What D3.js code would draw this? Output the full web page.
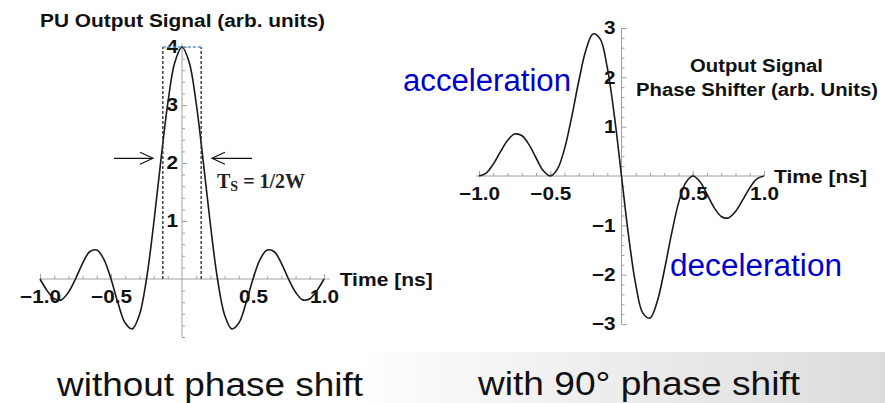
<!DOCTYPE html>
<html>
<head>
<meta charset="utf-8">
<script src="https://cdn.jsdelivr.net/npm/d3@7"></script>
<style>
  html, body { margin: 0; padding: 0; background: #fff; }
  svg { display: block; }
</style>
</head>
<body>
<svg id="chart" width="885" height="403"></svg>
<script>
// ---------------- data ----------------
const time = [-1.0,-0.95,-0.9,-0.85,-0.8,-0.75,-0.7,-0.65,-0.6,-0.55,-0.5,-0.45,-0.4,-0.35,-0.3,-0.25,-0.2,-0.15,-0.1,-0.05,0,
              0.05,0.1,0.15,0.2,0.25,0.3,0.35,0.4,0.45,0.5,0.55,0.6,0.65,0.7,0.75,0.8,0.85,0.9,0.95,1.0];
// PU output signal (without phase shift)
const puSignal = [0,-0.20,-0.34,-0.36,-0.23,0,0.27,0.47,0.50,0.34,0,-0.42,-0.76,-0.86,-0.62,0,0.94,2.02,3.03,3.74,4.00,
                  3.74,3.03,2.02,0.94,0,-0.62,-0.86,-0.76,-0.42,0,0.34,0.50,0.47,0.27,0,-0.23,-0.36,-0.34,-0.20,0];
// phase shifter output signal (90 deg phase shift)
const shiftedSignal = [0,0.06,0.24,0.49,0.72,0.85,0.82,0.64,0.37,0.11,0,0.14,0.55,1.19,1.92,2.55,2.88,2.78,2.20,1.22,0,
                       -1.22,-2.20,-2.78,-2.88,-2.55,-1.92,-1.19,-0.55,-0.14,0,-0.11,-0.37,-0.64,-0.82,-0.85,-0.72,-0.49,-0.24,-0.06,0];
const xMajorTicks = [-1.0,-0.5,0.5,1.0];
const xMinorTicks = [-1.0,-0.9,-0.8,-0.7,-0.6,-0.5,-0.4,-0.3,-0.2,-0.1,0.1,0.2,0.3,0.4,0.5,0.6,0.7,0.8,0.9,1.0];
const yMajorTicksLeft = [1,2,3,4];
const yMinorTicksLeft = [-1.0,-0.8,-0.6,-0.4,-0.2,0.2,0.4,0.6,0.8,1.2,1.4,1.6,1.8,2.2,2.4,2.6,2.8,3.2,3.4,3.6,3.8,4.0];
const yMajorTicksRight = [-3,-2,-1,1,2,3];
const yMinorTicksRight = [-3.0,-2.8,-2.6,-2.4,-2.2,-1.8,-1.6,-1.4,-1.2,-0.8,-0.6,-0.4,-0.2,
                          0.2,0.4,0.6,0.8,1.2,1.4,1.6,1.8,2.2,2.4,2.6,2.8,3.0];
const pulseHalfWidth = 0.135;   // T_S window half width (ns)
const halfMaxLevel = 2.08;      // arrow level
const texts = {
  leftTitle: "PU Output Signal (arb. units)",
  rightTitle1: "Output Signal",
  rightTitle2: "Phase Shifter (arb. Units)",
  xLabel: "Time [ns]",
  accel: "acceleration",
  decel: "deceleration",
  capLeft: "without phase shift",
  capRight: "with 90\u00B0 phase shift"
};

// ---------------- drawing ----------------
const svg = d3.select("#chart");
const defs = svg.append("defs");
const grad = defs.append("linearGradient").attr("id", "bg").attr("x1", "0").attr("x2", "1").attr("y1", "0").attr("y2", "0");
grad.append("stop").attr("offset", "0").attr("stop-color", "#ffffff");
grad.append("stop").attr("offset", "0.2").attr("stop-color", "#f6f6f6");
grad.append("stop").attr("offset", "1").attr("stop-color", "#dcdcdc");
svg.append("rect").attr("x", 360).attr("y", 352).attr("width", 525).attr("height", 51).attr("fill", "url(#bg)");

const FONT = '"Liberation Sans", Arial, Helvetica, sans-serif';
const STRETCH = 1.12;

function stretchText(sel, k) {
  sel.each(function() {
    const w = this.getComputedTextLength();
    d3.select(this).attr("textLength", w * k).attr("lengthAdjust", "spacingAndGlyphs");
  });
}

function drawPanel(opts) {
  const { x, y, xExt, yExt, signal, yMajor, yMinor, yPad } = opts;
  const g = svg.append("g");
  g.append("line").attr("x1", x(xExt[0])).attr("x2", x(xExt[1])).attr("y1", y(0)).attr("y2", y(0))
    .attr("stroke", "#a0a0a0").attr("stroke-width", 1);
  g.append("line").attr("x1", x(0)).attr("x2", x(0)).attr("y1", y(yExt[0])).attr("y2", y(yExt[1]))
    .attr("stroke", "#a0a0a0").attr("stroke-width", 1);

  const xMin = d3.axisBottom(x).tickValues(xMinorTicks).tickSizeInner(-3).tickSizeOuter(0).tickFormat("");
  const gxm = g.append("g").attr("transform", `translate(0,${y(0)})`).call(xMin);
  const xMaj = d3.axisBottom(x).tickValues(xMajorTicks).tickSizeInner(-5).tickSizeOuter(0)
    .tickPadding(11).tickFormat(d3.format(".1f"));
  const gx = g.append("g").attr("transform", `translate(0,${y(0)})`).call(xMaj);
  const yMinA = d3.axisLeft(y).tickValues(yMinor).tickSizeInner(-3).tickSizeOuter(0).tickFormat("");
  const gym = g.append("g").attr("transform", `translate(${x(0)},0)`).call(yMinA);
  const yMajA = d3.axisLeft(y).tickValues(yMajor).tickSizeInner(-5).tickSizeOuter(0)
    .tickPadding(yPad).tickFormat(d3.format("d"));
  const gy = g.append("g").attr("transform", `translate(${x(0)},0)`).call(yMajA);

  [gxm, gx, gym, gy].forEach(a => {
    a.select(".domain").remove();
    a.selectAll(".tick line").attr("stroke", "#a0a0a0");
  });
  [gx, gy].forEach(a => {
    a.selectAll(".tick text").attr("fill", "#111").style("font-family", FONT)
      .style("font-size", "18.5px").style("font-weight", "bold");
    stretchText(a.selectAll(".tick text"), STRETCH);
  });

  const line = d3.line().x((d, i) => x(time[i])).y(d => y(d)).curve(d3.curveCatmullRom.alpha(0.5));
  g.append("path").datum(signal).attr("d", line).attr("fill", "none")
    .attr("stroke", "#1a1a1a").attr("stroke-width", 1.6);

  g.append("text").attr("x", x(xExt[1]) + 10).attr("y", y(0) + 7).text(texts.xLabel)
    .style("font-family", FONT).style("font-size", "18.5px").style("font-weight", "bold").attr("fill", "#111")
    .attr("textLength", 93).attr("lengthAdjust", "spacingAndGlyphs");
  return g;
}

// Left panel
const xL = d3.scaleLinear().domain([-1, 1]).range([40, 324]);
const yL = d3.scaleLinear().domain([0, 4]).range([279, 47]);
drawPanel({ x: xL, y: yL, xExt: [-1.0, 1.04], yExt: [-1.0, 4.06], signal: puSignal,
  yMajor: yMajorTicksLeft, yMinor: yMinorTicksLeft, yPad: 4 });

// Right panel
const xR = d3.scaleLinear().domain([-1, 1]).range([479, 764]);
const yR = d3.scaleLinear().domain([-3, 3]).range([324, 28]);
drawPanel({ x: xR, y: yR, xExt: [-1.02, 1.0], yExt: [-3, 3], signal: shiftedSignal,
  yMajor: yMajorTicksRight, yMinor: yMinorTicksRight, yPad: 6 });

// Ts window (dashed rectangle)
const win = svg.append("g");
[-pulseHalfWidth, pulseHalfWidth].forEach(t => {
  win.append("line").attr("x1", xL(t)).attr("x2", xL(t)).attr("y1", yL(0)).attr("y2", yL(4))
    .attr("stroke", "#333").attr("stroke-width", 1.4).attr("stroke-dasharray", "3,2");
});
win.append("line").attr("x1", xL(-pulseHalfWidth)).attr("x2", xL(pulseHalfWidth)).attr("y1", yL(4)).attr("y2", yL(4))
  .attr("stroke", "#5b8fd0").attr("stroke-width", 1.4).attr("stroke-dasharray", "3,2");

// arrows
function arrow(x1, x2, yy) {
  const dir = Math.sign(x2 - x1);
  const g = svg.append("g").attr("stroke", "#111").attr("stroke-width", 1.1).attr("fill", "none");
  g.append("line").attr("x1", x1).attr("x2", x2).attr("y1", yy).attr("y2", yy);
  g.append("path").attr("d", `M${x2 - dir * 13},${yy - 6}L${x2},${yy}L${x2 - dir * 13},${yy + 6}`);
}
arrow(xL(-0.479), xL(-0.204), yL(halfMaxLevel));
arrow(xL(0.493), xL(0.211), yL(halfMaxLevel));

// T_S = 1/2W
const ts = svg.append("text").attr("x", 217).attr("y", 188)
  .style("font-family", '"Liberation Serif", "Times New Roman", serif').style("font-weight", "bold")
  .style("font-size", "20px").attr("fill", "#222");
ts.append("tspan").text("T");
ts.append("tspan").attr("dy", 3).style("font-size", "14px").text("S");
ts.append("tspan").attr("dy", -3).text(" = 1/2W");

// titles
function title(txt, x, y, len, size) {
  svg.append("text").attr("x", x).attr("y", y).text(txt)
    .style("font-family", FONT).style("font-weight", "bold").style("font-size", size + "px")
    .attr("fill", "#111").attr("textLength", len).attr("lengthAdjust", "spacingAndGlyphs");
}
title(texts.leftTitle, 40, 27, 285, 17.5);
title(texts.rightTitle1, 690, 72, 133, 17.5);
title(texts.rightTitle2, 636, 96, 242, 17.5);

// blue annotations
svg.append("text").attr("x", 403).attr("y", 91).text(texts.accel)
  .style("font-family", FONT).style("font-size", "31px").attr("fill", "#0000cc")
  .attr("textLength", 168).attr("lengthAdjust", "spacingAndGlyphs");
svg.append("text").attr("x", 670).attr("y", 276).text(texts.decel)
  .style("font-family", FONT).style("font-size", "31px").attr("fill", "#0000cc")
  .attr("textLength", 172).attr("lengthAdjust", "spacingAndGlyphs");

// captions
svg.append("text").attr("x", 57).attr("y", 396).text(texts.capLeft)
  .style("font-family", FONT).style("font-size", "33px").attr("fill", "#111")
  .attr("textLength", 306).attr("lengthAdjust", "spacingAndGlyphs");
svg.append("text").attr("x", 478).attr("y", 395).text(texts.capRight)
  .style("font-family", FONT).style("font-size", "33px").attr("fill", "#111")
  .attr("textLength", 322).attr("lengthAdjust", "spacingAndGlyphs");
</script>
</body>
</html>
